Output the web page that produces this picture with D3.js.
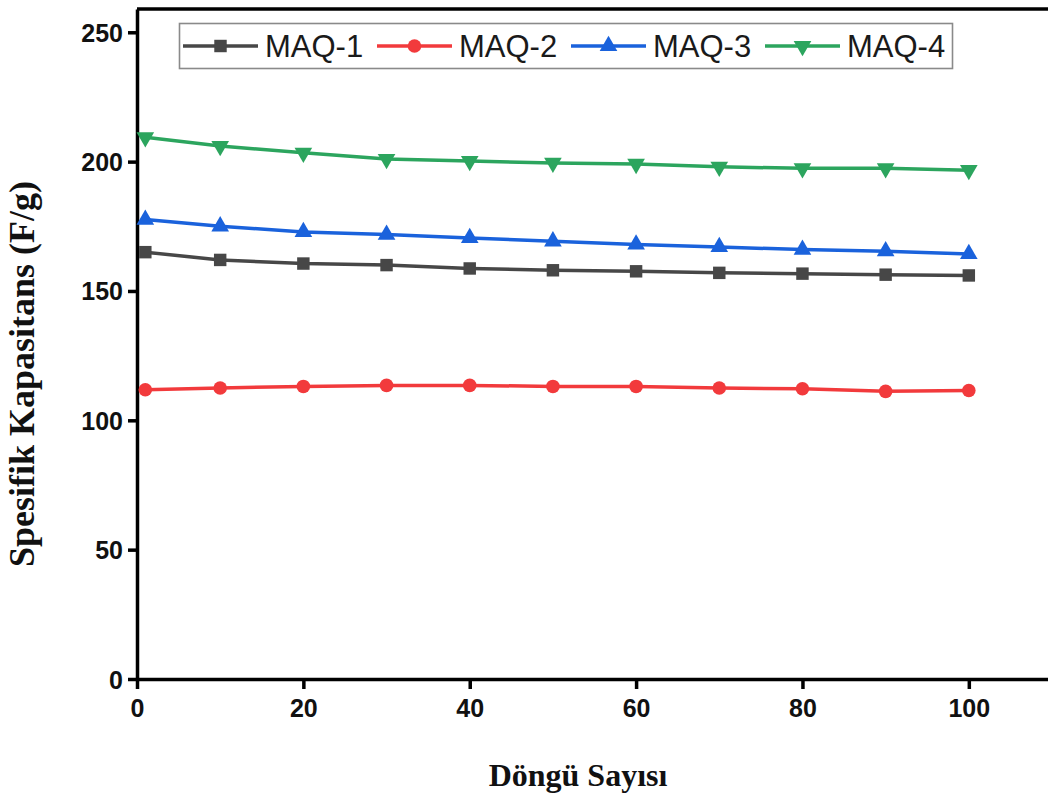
<!DOCTYPE html>
<html>
<head>
<meta charset="utf-8">
<script src="https://cdn.jsdelivr.net/npm/d3@7"></script>
<style>
  html, body { margin: 0; padding: 0; background: #fff; }
  svg { display: block; }
</style>
</head>
<body>
<svg id="chart" width="1048" height="794"></svg>
<script>
// Cycle numbers and specific capacitance (F/g) for each sample
const cycles = [1, 10, 20, 30, 40, 50, 60, 70, 80, 90, 100];
const maq1 = [165.0, 162.0, 160.6, 160.0, 158.7, 158.0, 157.6, 157.0, 156.7, 156.3, 156.0];
const maq2 = [111.8, 112.5, 113.1, 113.5, 113.5, 113.1, 113.1, 112.5, 112.2, 111.2, 111.5];
const maq3 = [177.6, 175.0, 172.8, 171.8, 170.5, 169.2, 168.0, 167.0, 166.0, 165.4, 164.3];
const maq4 = [209.4, 206.0, 203.4, 201.0, 200.2, 199.5, 199.1, 198.0, 197.4, 197.4, 196.7];

const seriesNames = ["MAQ-1", "MAQ-2", "MAQ-3", "MAQ-4"];
const xTicks = [0, 20, 40, 60, 80, 100];
const yTicks = [0, 50, 100, 150, 200, 250];
const xTitle = "Döngü Sayısı";
const yTitle = "Spesifik Kapasitans (F/g)";

const series = [
  { name: seriesNames[0], values: maq1, color: "#474747", symbol: d3.symbolSquare, size: 155, rot: 0 },
  { name: seriesNames[1], values: maq2, color: "#f23a3c", symbol: d3.symbolCircle, size: 145, rot: 0 },
  { name: seriesNames[2], values: maq3, color: "#1a62dc", symbol: d3.symbolTriangle, size: 135, rot: 0 },
  { name: seriesNames[3], values: maq4, color: "#2ca55e", symbol: d3.symbolTriangle, size: 135, rot: 180 }
];

const svg = d3.select("#chart");

const x = d3.scaleLinear().domain([0, 110]).range([137, 1052]);
const y = d3.scaleLinear().domain([0, 259]).range([679, 9]);

// Axes
const xAxis = d3.axisBottom(x).tickValues(xTicks).tickSize(10).tickSizeOuter(0).tickPadding(10);
const yAxis = d3.axisLeft(y).tickValues(yTicks).tickSize(9).tickSizeOuter(0).tickPadding(5);

const gx = svg.append("g").attr("transform", `translate(0,${y(0)})`).call(xAxis);
const gy = svg.append("g").attr("transform", `translate(${x(0)},0)`).call(yAxis);

[gx, gy].forEach(g => {
  g.select(".domain").attr("stroke", "#000").attr("stroke-width", 3.5);
  g.selectAll(".tick line").attr("stroke", "#000").attr("stroke-width", 3.5);
  g.selectAll(".tick text")
    .attr("fill", "#111")
    .style("font-family", "'Liberation Sans', Arial, sans-serif")
    .style("font-weight", "bold")
    .style("font-size", "25px");
});
gy.selectAll(".tick text").attr("dy", "0.36em");

// Top frame line
svg.append("line")
  .attr("x1", x(0)).attr("x2", x(110))
  .attr("y1", y(259)).attr("y2", y(259))
  .attr("stroke", "#000").attr("stroke-width", 3.5);

// Lines and markers
const line = d3.line().x((d, i) => x(cycles[i])).y(d => y(d));

series.forEach(s => {
  svg.append("path")
    .datum(s.values)
    .attr("d", line)
    .attr("fill", "none")
    .attr("stroke", s.color)
    .attr("stroke-width", 3.5);

  svg.append("g").selectAll("path")
    .data(s.values)
    .join("path")
    .attr("d", d3.symbol().type(s.symbol).size(s.size))
    .attr("transform", (d, i) => `translate(${x(cycles[i])},${y(d)}) rotate(${s.rot})`)
    .attr("fill", s.color);
});

// Legend
const legend = svg.append("g");
legend.append("rect")
  .attr("x", 179.5).attr("y", 23.5).attr("width", 773).attr("height", 45)
  .attr("fill", "#fff").attr("stroke", "#8a8a8a").attr("stroke-width", 1.6);

const legendX = d3.scalePoint().domain(seriesNames).range([183, 765]);
series.forEach(s => {
  const lx = legendX(s.name);
  const item = legend.append("g").attr("transform", `translate(${lx},46)`);
  item.append("line").attr("x1", 0).attr("x2", 75).attr("y1", 0).attr("y2", 0)
    .attr("stroke", s.color).attr("stroke-width", 3.5);
  item.append("path")
    .attr("d", d3.symbol().type(s.symbol).size(s.size))
    .attr("transform", `translate(37.5,0) rotate(${s.rot})`)
    .attr("fill", s.color);
  item.append("text")
    .attr("x", 82).attr("y", 11)
    .attr("fill", "#1a1a1a")
    .style("font-family", "'Liberation Sans', Arial, sans-serif")
    .style("font-size", "31px")
    .text(s.name);
});

// Axis titles
svg.append("text")
  .attr("x", 578).attr("y", 786)
  .attr("text-anchor", "middle")
  .attr("fill", "#111")
  .style("font-family", "'Liberation Serif', 'Times New Roman', serif")
  .style("font-weight", "bold")
  .style("font-size", "32px")
  .text(xTitle);

svg.append("text")
  .attr("transform", "translate(34,374) rotate(-90)")
  .attr("text-anchor", "middle")
  .attr("fill", "#111")
  .style("font-family", "'Liberation Serif', 'Times New Roman', serif")
  .style("font-weight", "bold")
  .style("font-size", "36px")
  .text(yTitle);
</script>
</body>
</html>
